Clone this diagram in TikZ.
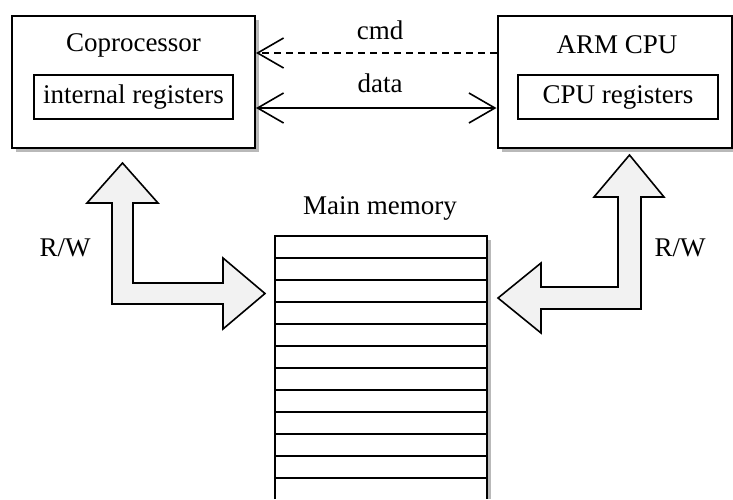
\documentclass[tikz,border=0pt]{standalone}
\usepackage{fontspec}
\setmainfont{Liberation Serif}
\usetikzlibrary{arrows.meta}
\usetikzlibrary{positioning,shadows}
\tikzset{
	outernode/.style={rectangle, draw=black, line width=1pt, fill=white, minimum height=66pt, drop shadow={shadow xshift=2pt, shadow yshift=-2pt, fill=gray!55, opacity=1}},
	regnode/.style={rectangle, draw=black, line width=1pt, minimum width=99.5pt, minimum height=22pt, inner sep=0pt},
	bigarrow/.style={draw=black, line width=0.8pt, fill=gray!10, line join=miter},
	barb/.style={-{Straight Barb[length=13pt, width=15pt, line width=0.8pt]}, line width=0.8pt},
	mydashed/.style={dash pattern=on 3.5pt off 2.5pt}
}

\begin{document}
\begin{tikzpicture}[x=0.5pt, y=-0.5pt, font=\fontsize{13.5}{16}\selectfont]
		\useasboundingbox (0,0) rectangle (733,499);
		% processors
		\node[outernode, minimum width=121.5pt] at (133.5,82) (copro) {};
		\node[outernode, minimum width=117pt] at (614.5,82) (arm) {};
		\node at (133.5,45) (coprotitle) {Coprocessor};
		\node[regnode] at (133.5,97) (intreg) {internal registers};
		\node at (617,45) (armtitle) {ARM CPU};
		\node[regnode, minimum width=100pt] at (618,97) (cpureg) {CPU registers};
		% links between them
		\draw[barb, mydashed] ([yshift=14.5pt]arm.west) -- ([yshift=14.5pt]copro.east);
		\draw[barb, {Straight Barb[length=13pt, width=15pt, line width=0.8pt]}-{Straight Barb[length=13pt, width=15pt, line width=0.8pt]}] ([yshift=-13pt]copro.east) -- ([yshift=-13pt]arm.west);
		\node at (380,30) (cmd) {cmd};
		\node at (380,83) (data) {data};
		% main memory
		\fill[gray!55] (487,240) rectangle (491,499);
		\draw[line width=1pt] (275,499) -- (275,236) -- (487,236) -- (487,499);
		\foreach \k in {1,...,11}
			\draw[line width=1pt] (275,236+22*\k) -- (487,236+22*\k);
		\node at (380,208) (mem) {Main memory};
		% read/write arrows
		\draw[bigarrow] (112,203) -- (87,203) -- (122.5,163) -- (158,203) -- (133,203) -- (133,283) -- (223,283) -- (223,258) -- (265,293.5) -- (223,329) -- (223,304) -- (112,304) -- cycle;
		\draw[bigarrow] (641,197) -- (664,197) -- (629.5,155) -- (594,197) -- (618,197) -- (618,287) -- (541,287) -- (541,263) -- (498,298) -- (541,333) -- (541,309) -- (641,309) -- cycle;
		\node at (65,248) (rwleft) {R/W};
		\node at (680,248) (rwright) {R/W};
	\end{tikzpicture}
\end{document}
